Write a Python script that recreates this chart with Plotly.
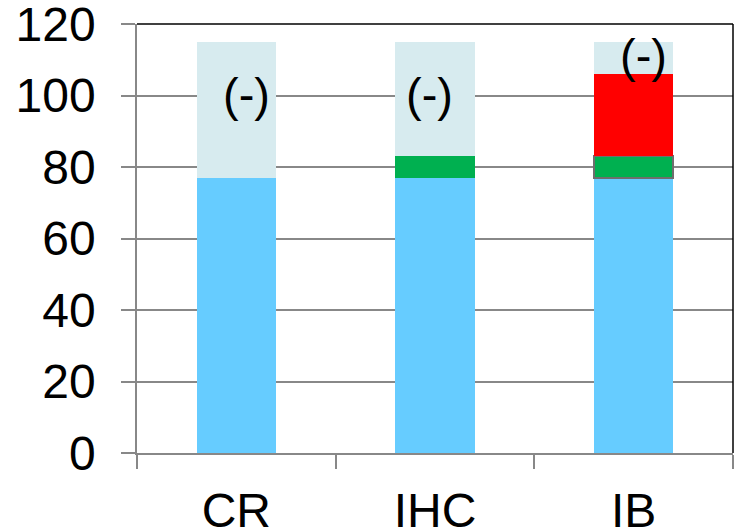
import plotly.graph_objects as go

categories = ["CR", "IHC", "IB"]
blue_vals = [77, 77, 77]
green_vals = [0, 6, 6]
red_vals = [0, 0, 23]
pale_vals = [38, 32, 9]
pale_labels = ["(-)", "(-)", "(-)"]
y_ticks = [0, 20, 40, 60, 80, 100, 120]

FONT = "Liberation Sans, Arial, sans-serif"
W = 0.4

fig = go.Figure()
fig.add_bar(x=categories, y=blue_vals, marker=dict(color="#66CCFF", line=dict(width=0)), width=W)
fig.add_bar(x=categories, y=green_vals,
            marker=dict(color="#00B050", line=dict(color="#6E6E6E", width=[0, 0, 2])), width=W)
fig.add_bar(x=categories, y=red_vals, marker=dict(color="#FF0000", line=dict(width=0)), width=W)
fig.add_bar(x=categories, y=pale_vals, marker=dict(color="#D7EBEF", line=dict(width=0)), width=W)

ann_pos = [(0.05, 100.3), (0.97, 100.3), (2.05, 111.3)]
for (ax, ay), t in zip(ann_pos, pale_labels):
    fig.add_annotation(x=ax, y=ay, text=t, showarrow=False,
                       font=dict(family=FONT, size=47, color="black"),
                       xanchor="center", yanchor="middle")

# top and right black border
fig.add_shape(type="line", xref="paper", yref="paper", x0=0, x1=1, y0=1, y1=1,
              line=dict(color="black", width=1.5))
fig.add_shape(type="line", xref="paper", yref="paper", x0=1, x1=1, y0=0, y1=1,
              line=dict(color="black", width=1.5))

fig.update_layout(
    barmode="stack",
    width=738, height=532,
    margin=dict(l=137, r=5, t=24, b=79, pad=0),
    plot_bgcolor="white", paper_bgcolor="white",
    showlegend=False,
    font=dict(family=FONT, size=48, color="black"),
    xaxis=dict(type="category", range=[-0.5, 2.5], tickson="boundaries",
               ticks="outside", ticklen=14, tickwidth=1.5, tickcolor="#888888",
               showline=True, linecolor="#888888", linewidth=1.5,
               showgrid=False, ticklabelstandoff=15, automargin=False,
               ticklabeloverflow="allow",
               tickfont=dict(family=FONT, size=48, color="black")),
    yaxis=dict(range=[0, 120], tickvals=y_ticks, ticks="outside", ticklen=14,
               tickwidth=1.5, tickcolor="#888888",
               showline=True, linecolor="#888888", linewidth=1.5,
               showgrid=True, gridcolor="#888888", gridwidth=1.5,
               zeroline=False, ticklabelstandoff=16, automargin=False,
               ticklabeloverflow="allow",
               tickfont=dict(family=FONT, size=48, color="black")),
)

fig.write_html("out.html", config={"displayModeBar": False},
               post_script="document.body.style.margin='0px';")
